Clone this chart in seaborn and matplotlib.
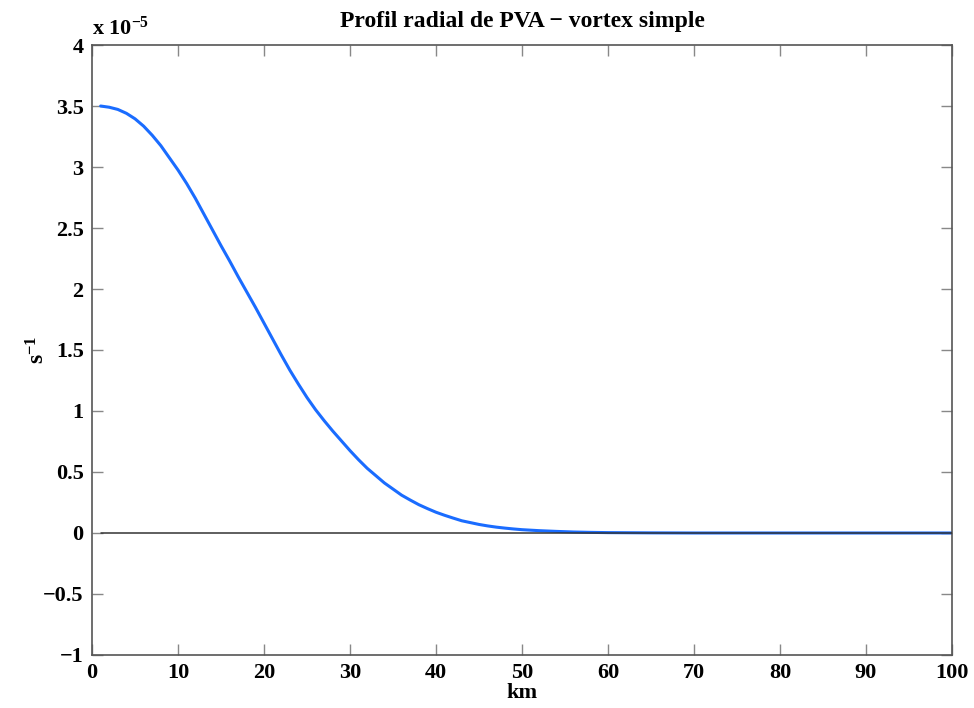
import numpy as np
import pandas as pd
import matplotlib
matplotlib.use("Agg")
import matplotlib.pyplot as plt
from matplotlib.ticker import FuncFormatter, MultipleLocator
import seaborn as sns

# Radial PVA profile of a single vortex (values in units of 1e-5 s^-1)
radius_km = [1, 2, 3, 4, 5, 6, 7, 8, 9, 10, 11, 12, 13, 14, 15, 16, 17, 18, 19, 20,
             21, 22, 23, 24, 25, 26, 27, 28, 29, 30, 31, 32, 33, 34, 35, 36, 37, 38,
             39, 40, 41, 42, 43, 44, 45, 46, 47, 48, 49, 50, 52, 54, 56, 58, 60, 65,
             70, 80, 90, 100]
pva_e5 = [3.500, 3.490, 3.472, 3.440, 3.395, 3.335, 3.260, 3.175, 3.075, 2.975,
          2.865, 2.745, 2.615, 2.485, 2.355, 2.230, 2.100, 1.975, 1.850, 1.720,
          1.590, 1.460, 1.335, 1.220, 1.110, 1.010, 0.920, 0.835, 0.755, 0.675,
          0.600, 0.530, 0.470, 0.410, 0.360, 0.310, 0.270, 0.232, 0.200, 0.170,
          0.145, 0.122, 0.100, 0.085, 0.070, 0.058, 0.048, 0.040, 0.033, 0.027,
          0.019, 0.013, 0.008, 0.005, 0.003, 0.001, 0.0, 0.0, 0.0, 0.0]
zero_level = [0.0] * len(radius_km)
SCALE = 1e-5

df = pd.DataFrame({
    "km": radius_km,
    "pva": np.array(pva_e5) * SCALE,
    "zero": np.array(zero_level) * SCALE,
})

sns.set_theme(style="ticks")
plt.rcParams["font.family"] = ["Liberation Serif", "DejaVu Serif"]
plt.rcParams["font.weight"] = "bold"
plt.rcParams["text.color"] = "black"
plt.rcParams["axes.labelcolor"] = "black"
plt.rcParams["mathtext.fontset"] = "custom"
plt.rcParams["mathtext.rm"] = "Liberation Serif:bold"
plt.rcParams["mathtext.it"] = "Liberation Serif:bold"
plt.rcParams["mathtext.bf"] = "Liberation Serif:bold"

fig = plt.figure(figsize=(9.74, 7.08), dpi=100)
ax = fig.add_axes([0.0945, 0.0749, 0.8829, 0.8615])

sns.lineplot(data=df, x="km", y="pva", ax=ax, color="#1a6cff", linewidth=2.2,
             estimator=None, sort=False, zorder=2)
sns.lineplot(data=df, x="km", y="zero", ax=ax, color="#333333", linewidth=1.1,
             estimator=None, sort=False, zorder=3)

ax.set_xlim(0, 100)
ax.set_ylim(-1 * SCALE, 4 * SCALE)
ax.xaxis.set_major_locator(MultipleLocator(10))
ax.yaxis.set_major_locator(MultipleLocator(0.5 * SCALE))
ax.yaxis.set_major_formatter(FuncFormatter(lambda v, p: f"{v / SCALE:g}".replace("-", "\u2212")))
ax.xaxis.set_major_formatter(FuncFormatter(lambda v, p: f"{v:g}"))

for side in ["top", "right", "bottom", "left"]:
    ax.spines[side].set_visible(True)
    ax.spines[side].set_color("#555555")
    ax.spines[side].set_linewidth(1.2)

ax.tick_params(axis="both", which="major", direction="in", length=8, width=1,
               color="#888888", top=True, right=True, labelsize=16,
               labelcolor="black", pad=6)
for lab in ax.get_xticklabels() + ax.get_yticklabels():
    lab.set_fontweight("bold")

ax.set_xlabel("km", fontsize=16, fontweight="bold", labelpad=0, color="black")
ax.set_ylabel(r"s$^{-1}$", fontsize=17, fontweight="bold", color="black")
ax.yaxis.set_label_coords(-0.05, 0.5)
ax.set_title("Profil radial de PVA \u2212 vortex simple", fontsize=17,
             fontweight="bold", pad=13, color="black")

# exponent annotation above the y axis
ax.text(0.0, 1.008, r"x 10$^{-5}$", transform=ax.transAxes, fontsize=16,
        fontweight="bold", ha="left", va="bottom", color="black")

fig.savefig("out.png", dpi=100)
